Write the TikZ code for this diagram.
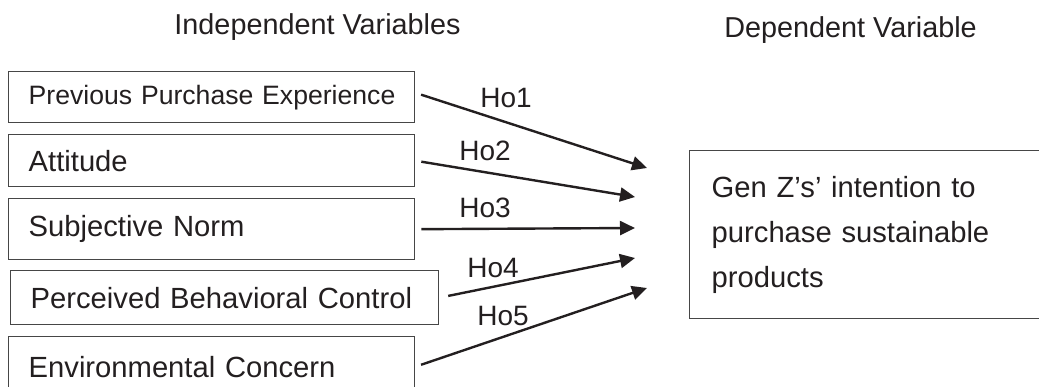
\documentclass[tikz,border=0pt]{standalone}
\usepackage{fontspec}
\setmainfont{Liberation Sans}
\usepackage{xcolor}
\usetikzlibrary{arrows.meta}
\definecolor{inkc}{RGB}{35,31,32}
\definecolor{framec}{RGB}{70,70,70}

\begin{document}
\begin{tikzpicture}[x=0.5pt, y=-0.5pt, every node/.style={text=inkc},
  varbox/.style={draw=framec, line width=0.7pt, anchor=north west, inner xsep=10pt, inner ysep=0pt, align=left, font=\fontsize{14.6}{17}\selectfont},
  head/.style={anchor=base, font=\fontsize{14.4}{17}\selectfont},
  hyp/.style={anchor=base, font=\fontsize{14}{17}\selectfont},
  link/.style={draw=inkc, line width=1.2pt, shorten <=3pt, -{Triangle[length=7.5pt,width=7pt]}}]
  \useasboundingbox (0,0) rectangle (1039,386);
  \node[head] (ivar) at (317.5,34) {Independent Variables};
  \node[head] (dvar) at (850.5,37) {Dependent Variable};
  \node[varbox, text width=183pt, minimum height=25.5pt, font=\fontsize{13.3}{16}\selectfont] (b1) at (8,71) {\mbox{Previous Purchase Experience}};
  \node[varbox, text width=183pt, minimum height=26pt] (b2) at (8,134) {Attitude};
  \node[varbox, text width=183pt, minimum height=30.5pt] (b3) at (8,198) {Subjective Norm};
  \node[varbox, text width=194pt, minimum height=27pt] (b4) at (10,270) {\mbox{Perceived Behavioral Control}};
  \node[varbox, text width=183pt, minimum height=30pt] (b5) at (8,336) {Environmental Concern};
  \node[varbox, text width=158pt, inner xsep=11pt, minimum height=84pt, font=\fontsize{14.6}{22.5}\selectfont] (intent) at (689,150) {Gen Z’s’ intention to\\purchase sustainable\\products};
  \coordinate (t1) at (647,168);
  \coordinate (t2) at (635,197);
  \coordinate (t3) at (635,228);
  \coordinate (t4) at (635,258);
  \coordinate (t5) at (647,288);
  \draw[link] ([yshift=2.2pt]b1.east) -- (t1);
  \draw[link] (b2.east) -- (t2);
  \draw[link] (b3.east) -- (t3);
  \draw[link, shorten <=4.5pt] (b4.east) -- (t4);
  \draw[link] (b5.east) -- (t5);
  \node[hyp] (h1) at (506,107) {Ho1};
  \node[hyp] (h2) at (485,160) {Ho2};
  \node[hyp] (h3) at (485,217) {Ho3};
  \node[hyp] (h4) at (493,277) {Ho4};
  \node[hyp] (h5) at (503,325) {Ho5};
\end{tikzpicture}
\end{document}
